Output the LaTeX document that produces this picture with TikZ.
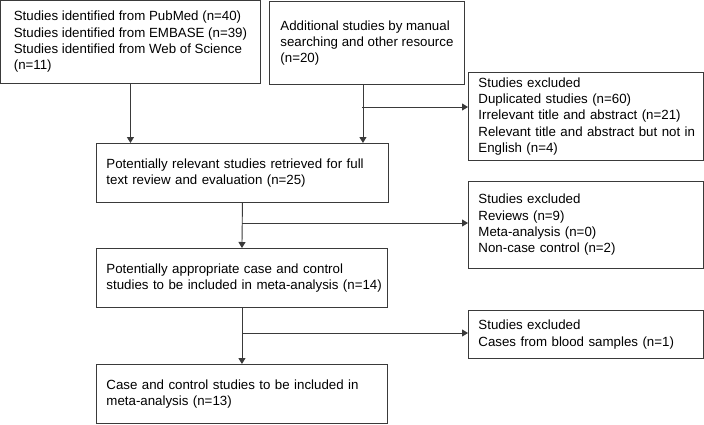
\documentclass[tikz,border=0pt]{standalone}
\usepackage{fontspec}
\setmainfont{Liberation Sans}
\usetikzlibrary{arrows.meta}
\definecolor{linegray}{HTML}{3A3A3A}
\begin{document}
\begin{tikzpicture}[x=1pt,y=-1pt,
  box/.style={draw=linegray, line width=0.9pt, anchor=north west, align=left,
    font=\fontsize{13.3}{16.3}\selectfont, inner ysep=0pt},
  lbox/.style={box, inner xsep=10pt},
  arr/.style={draw=linegray, line width=0.9pt, -{Triangle[length=6pt,width=7pt]}}]
\useasboundingbox (0,0) rectangle (704,424);
\node[box, minimum width=260pt, minimum height=83pt] (A) at (0,0)
  {Studies identified from PubMed (n=40)\\Studies identified from EMBASE (n=39)\\Studies identified from Web of Science\\(n=11)};
\node[box, minimum width=195pt, minimum height=83pt] (B) at (269,1)
  {Additional studies by manual\\searching and other resource\\(n=20)};
\node[lbox, text width=215pt, minimum height=88pt] (D) at (468,72)
  {\mbox{Studies excluded}\\\mbox{Duplicated studies (n=60)}\\\mbox{Irrelevant title and abstract (n=21)}\\\mbox{Relevant title and abstract but not in}\\\mbox{English (n=4)}};
\node[lbox, text width=272pt, minimum height=59pt] (C) at (96,143)
  {\mbox{Potentially relevant studies retrieved for full}\\\mbox{text review and evaluation (n=25)}};
\node[lbox, text width=215pt, minimum height=87pt] (E) at (468,181)
  {\mbox{Studies excluded}\\\mbox{Reviews (n=9)}\\\mbox{Meta-analysis (n=0)}\\\mbox{Non-case control (n=2)}};
\node[lbox, text width=271pt, minimum height=59pt] (F) at (96,248)
  {\mbox{Potentially appropriate case and control}\\\mbox{studies to be included in meta-analysis (n=14)}};
\node[lbox, text width=215pt, minimum height=48pt] (G) at (468,310)
  {\mbox{Studies excluded}\\\mbox{Cases from blood samples (n=1)}};
\node[lbox, text width=271pt, minimum height=59pt] (H) at (96,364)
  {\mbox{Case and control studies to be included in}\\\mbox{meta-analysis (n=13)}};
\coordinate (bs) at ([xshift=-4pt]B.south);
\coordinate (b1) at (362,107);
\coordinate (b2) at (242,223);
\coordinate (b3) at (242,333);
\draw[arr] (A.south) -- (A.south |- C.north);
\draw[arr] (bs) -- (bs |- C.north);
\draw[arr] (b1) -- (b1 -| D.west);
\draw[arr] (C.south) -- (F.north);
\draw[arr] (b2) -- (b2 -| E.west);
\draw[arr] (F.south) -- (H.north);
\draw[arr] (b3) -- (b3 -| G.west);
\end{tikzpicture}
\end{document}
